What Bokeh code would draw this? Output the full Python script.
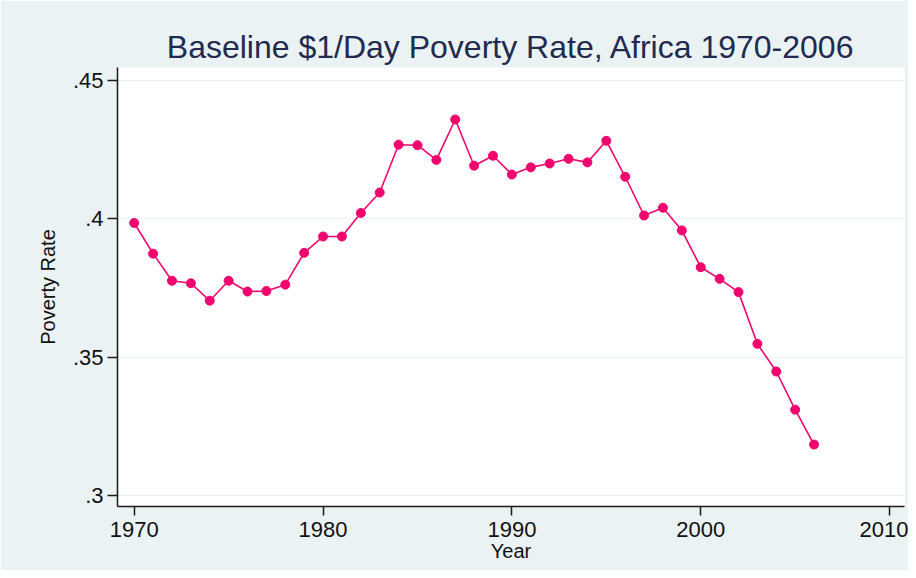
from bokeh.plotting import figure
from bokeh.models import FixedTicker, Range1d
from bokeh.embed import file_html
from bokeh.resources import INLINE

years = list(range(1970, 2007))
poverty_rate = [0.3985, 0.3874, 0.3776, 0.3767, 0.3704, 0.3776, 0.3737, 0.3739,
                0.3762, 0.3877, 0.3936, 0.3936, 0.4021, 0.4095, 0.4268, 0.4266,
                0.4213, 0.4359, 0.4192, 0.4228, 0.4160, 0.4186, 0.4200, 0.4217,
                0.4204, 0.4282, 0.4152, 0.4012, 0.4040, 0.3958, 0.3825, 0.3783,
                0.3735, 0.3548, 0.3448, 0.3310, 0.3184]

x_ticks = [1970, 1980, 1990, 2000, 2010]
y_ticks = [0.30, 0.35, 0.40, 0.45]
y_tick_labels = [".3", ".35", ".4", ".45"]

BG = "#EAF2F3"
PINK = "#F0056E"
FONT = "Liberation Sans"

p = figure(width=908, height=570, output_backend="svg", toolbar_location=None,
           x_range=Range1d(1969.115, 2010.79), y_range=Range1d(0.2960, 0.4547),
           min_border_left=117, min_border_right=4, min_border_top=67, min_border_bottom=64,
           title="Baseline $1/Day Poverty Rate, Africa 1970-2006")

p.border_fill_color = BG
p.background_fill_color = "white"
p.outline_line_color = None

p.title.text_font = FONT
p.title.text_font_size = "32px"
p.title.text_font_style = "normal"
p.title.text_color = "#222a50"
p.title.align = "center"
p.title.standoff = 5

p.line(years, poverty_rate, line_color=PINK, line_width=1.6)
p.scatter(years, poverty_rate, size=9, fill_color=PINK, line_color=PINK)

p.xaxis.ticker = FixedTicker(ticks=x_ticks)
p.yaxis.ticker = FixedTicker(ticks=y_ticks)
p.yaxis.major_label_overrides = {t: l for t, l in zip(y_ticks, y_tick_labels)}
p.xaxis.axis_label = "Year"
p.yaxis.axis_label = "Poverty Rate"

for ax in (p.xaxis, p.yaxis):
    ax.axis_line_color = "#1a1a1a"
    ax.axis_line_width = 1.5
    ax.major_tick_line_color = "#1a1a1a"
    ax.major_tick_line_width = 1.5
    ax.major_tick_in = 0
    ax.minor_tick_line_color = None
    ax.major_label_text_font = FONT
    ax.major_label_text_font_size = "22px"
    ax.major_label_text_color = "#111111"
    ax.axis_label_text_font = FONT
    ax.axis_label_text_font_size = "20px"
    ax.axis_label_text_font_style = "normal"
    ax.axis_label_text_color = "#111111"

p.xaxis.major_tick_out = 9
p.xaxis.major_label_standoff = 6
p.xaxis.axis_label_standoff = 0
p.yaxis.major_tick_out = 10
p.yaxis.major_label_standoff = 4
p.yaxis.axis_label_standoff = 11
p.yaxis.major_label_orientation = "horizontal"

p.xgrid.grid_line_color = None
p.ygrid.grid_line_color = BG
p.ygrid.grid_line_width = 1.2

open("out.html", "w").write(file_html(p, INLINE))
